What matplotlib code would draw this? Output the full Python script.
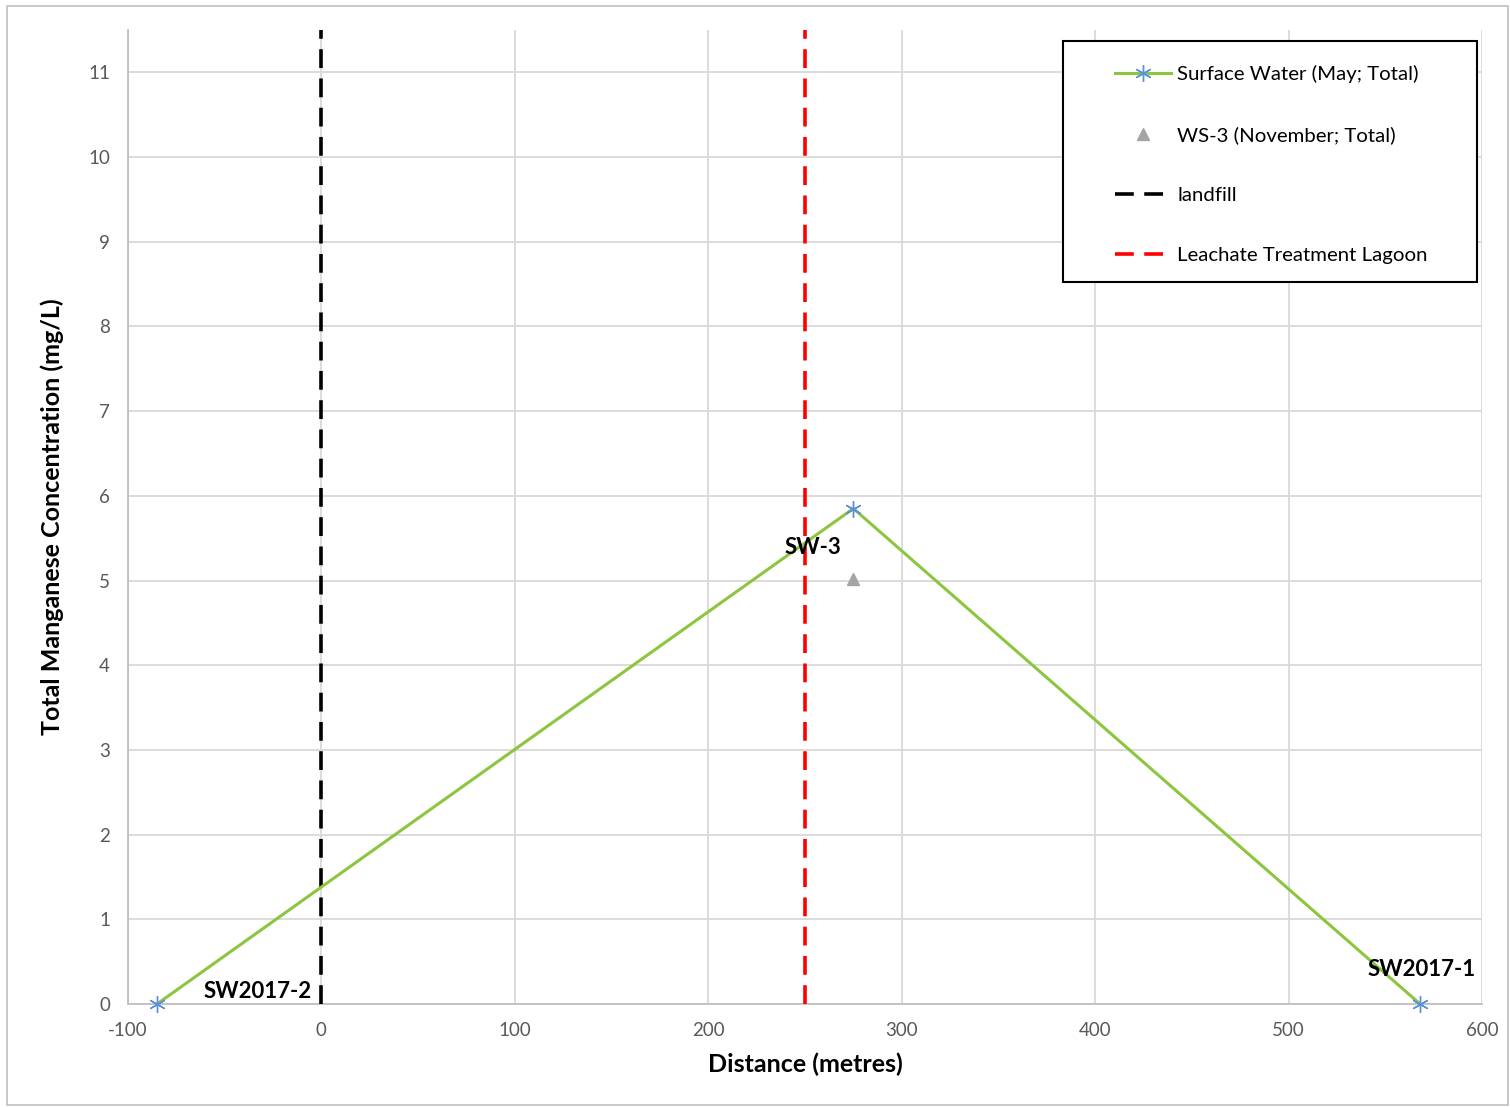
import matplotlib
matplotlib.use("Agg")
import matplotlib.pyplot as plt
from matplotlib.lines import Line2D
from matplotlib.patches import Rectangle

plt.rcParams['font.family'] = ['Lato', 'DejaVu Sans']
plt.rcParams['axes.unicode_minus'] = False

# Data
sw_distance = [-85, 275, 568]
sw_conc = [0.0, 5.85, 0.0]
sw_labels = ["SW2017-2", "SW-3", "SW2017-1"]
ws3_distance = [275]
ws3_conc = [5.02]
landfill_x = 0
lagoon_x = 250
x_ticks = [-100, 0, 100, 200, 300, 400, 500, 600]
y_ticks = list(range(0, 12))

fig = plt.figure(figsize=(15.10, 11.07), dpi=100)
ax = fig.add_axes([128/1510, 1 - 1004/1107, (1482-128)/1510, (1004-30)/1107])

ax.set_xlim(-100, 600)
ax.set_ylim(0, 11.5)
ax.set_xticks(x_ticks)
ax.set_yticks(y_ticks)
ax.grid(True, color='#D9D9D9', linewidth=1.3)
ax.set_axisbelow(True)
for s in ['top', 'right']:
    ax.spines[s].set_visible(False)
for s in ['left', 'bottom']:
    ax.spines[s].set_color('#BFBFBF')
    ax.spines[s].set_linewidth(1.3)
ax.tick_params(length=0, labelsize=13.5, labelcolor='#595959', pad=13)

green = '#8CC63F'
blue = '#5B8FD9'
ax.plot(sw_distance, sw_conc, color=green, linewidth=2.2, marker=(6, 2, 0),
        markersize=12, markeredgecolor=blue, markeredgewidth=1.0, zorder=4,
        clip_on=False)
ax.plot(ws3_distance, ws3_conc, linestyle='none', marker='^', markersize=8,
        color='#A5A5A5', zorder=4)
ax.axvline(landfill_x, color='black', linewidth=2.6, dashes=(5.2, 2.9), zorder=3)
ax.axvline(lagoon_x, color='#FF0000', linewidth=2.6, dashes=(5.2, 2.9), zorder=3)

offsets = [(101, 13), (-40, -39), (1, 34)]
for xv, yv, lab, off in zip(sw_distance, sw_conc, sw_labels, offsets):
    ax.annotate(lab, (xv, yv), xytext=off, textcoords='offset pixels',
                ha='center', va='center', fontsize=16, fontweight='bold',
                color='black', zorder=5)

ax.set_xlabel('Distance (metres)', fontsize=18, fontweight='bold')
ax.set_ylabel('Total Manganese Concentration (mg/L)', fontsize=18, fontweight='bold')
ax.xaxis.set_label_coords(0.5, (1004-1053)/974)
ax.yaxis.set_label_coords((64-128)/1354, 0.5)

handles = [
    Line2D([], [], color=green, linewidth=2.2, marker=(6, 2, 0), markersize=12,
           markeredgecolor=blue, markeredgewidth=1.0),
    Line2D([], [], linestyle='none', marker='^', markersize=8, color='#A5A5A5'),
    Line2D([], [], color='black', linewidth=2.6, dashes=(5.2, 2.9)),
    Line2D([], [], color='#FF0000', linewidth=2.6, dashes=(5.2, 2.9)),
]
labels = ['Surface Water (May; Total)', 'WS-3 (November; Total)', 'landfill',
          'Leachate Treatment Lagoon']
leg = ax.legend(handles, labels, loc='upper left',
                bbox_to_anchor=((1115-128)/1354, (1004-65)/974),
                frameon=False, fontsize=14.7, handlelength=2.75, handletextpad=0.3,
                labelspacing=2.1, borderpad=0, borderaxespad=0)
ax.add_patch(Rectangle(((1063-128)/1354, (1004-282)/974), (1477-1063)/1354,
                       (282-41)/974, transform=ax.transAxes, fill=True,
                       facecolor='white', edgecolor='black', linewidth=1.5,
                       zorder=6, clip_on=False))
leg.set_zorder(7)

fig.add_artist(Rectangle((7/1510, 1 - 1105/1107), (1508-7)/1510, (1105-6)/1107,
                         transform=fig.transFigure, fill=False,
                         edgecolor='#BFBFBF', linewidth=1.2))

fig.savefig('out.png', dpi=100)
